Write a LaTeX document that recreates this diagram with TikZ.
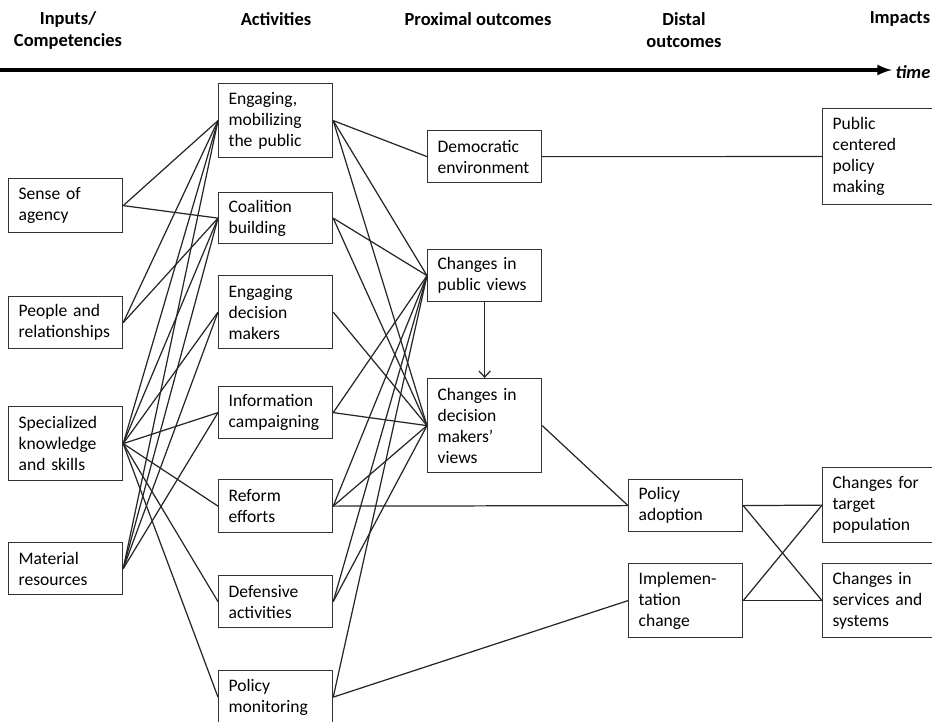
\documentclass[tikz,border=0pt]{standalone}
\usepackage{fontspec}
\setmainfont{Carlito}
\usetikzlibrary{arrows,arrows.meta}
\usetikzlibrary{positioning}

\begin{document}
\begin{tikzpicture}[x=0.02cm,y=-0.02cm]
	
	\tikzstyle{box} = [draw=black!80,line width=0.7pt,anchor=north west,align=left,inner xsep=0.2cm,text width=1.88cm,font=\fontsize{10}{12}\selectfont]
	\tikzstyle{wbox} = [box,minimum width=2.28cm]
	\tikzstyle{ibox} = [box,minimum width=2.2cm,text width=1.8cm]
	\tikzstyle{head} = [font=\fontsize{10.5}{12.5}\selectfont\bfseries,align=center]
	\tikzstyle{link} = [draw=black!85,line width=0.7pt]
	
	\useasboundingbox (0,0) rectangle (932,721);
	
	% column headings and time axis
	\node[head] (hin) at (68,30) {Inputs/\\Competencies};
	\node[head] (hact) at (276,19) {Activities};
	\node[head] (hprox) at (478,19) {Proximal outcomes};
	\node[head] (hdist) at (684,30) {Distal\\outcomes};
	\node[head] (himp) at (900,19) {Impacts};
	\coordinate (tstart) at (0,70);
	\node[font=\fontsize{10.5}{12.5}\selectfont\bfseries\itshape,inner xsep=2pt] (time) at (913,72) {time};
	\draw[line width=1.8pt,->,>=latex] (tstart) -- (time.west |- tstart);
	
	% inputs
	\node[wbox,minimum height=1.08cm] (agency) at (8,178) {Sense of\\agency};
	\node[wbox,minimum height=1.04cm] (people) at (8,296) {People and\\relationships};
	\node[wbox,minimum height=1.48cm] (skills) at (8,406) {Specialized\\knowledge\\and skills};
	\node[wbox,minimum height=1.04cm] (material) at (8,542) {Material\\resources};
	
	% activities
	\node[wbox,minimum height=1.48cm] (mobil) at (218,83) {Engaging,\\mobilizing\\the public};
	\node[wbox,minimum height=1.02cm] (coal) at (218,192) {Coalition\\building};
	\node[wbox,minimum height=1.46cm] (engdm) at (218,275) {Engaging\\decision\\makers};
	\node[wbox,minimum height=1.04cm] (info) at (218,386) {Information\\campaigning};
	\node[wbox,minimum height=1.06cm] (reform) at (218,479) {Reform\\efforts};
	\node[wbox,minimum height=1.04cm] (defens) at (218,575) {Defensive\\activities};
	\node[wbox,minimum height=1.06cm] (monit) at (218,670) {Policy\\monitoring};
	
	% proximal outcomes
	\node[wbox,minimum height=1.04cm] (democ) at (427,130) {Democratic\\environment};
	\node[wbox,minimum height=1.04cm] (pubv) at (427,249) {Changes in\\public views};
	\node[wbox,minimum height=1.88cm] (dmv) at (427,378) {Changes in\\decision\\makers'\\views};
	
	% distal outcomes
	\node[wbox,minimum height=1.04cm] (adopt) at (628,479) {Policy\\adoption};
	\node[wbox,minimum height=1.48cm] (implem) at (628,563) {Implemen-\\tation\\change};
	
	% impacts
	\node[ibox,minimum height=1.92cm] (pcpm) at (822,108) {Public\\centered\\policy\\making};
	\node[ibox,minimum height=1.50cm] (target) at (822,467) {Changes for\\target\\population};
	\node[ibox,minimum height=1.48cm] (servic) at (822,563) {Changes in\\services and\\systems};
	
	% inputs to activities
	\draw (agency.east) edge [link] (mobil.west);
	\draw (agency.east) edge [link] (coal.west);
	\draw (people.east) edge [link] (mobil.west);
	\draw (people.east) edge [link] (coal.west);
	\draw (skills.east) edge [link] (mobil.west);
	\draw (skills.east) edge [link] (coal.west);
	\draw (skills.east) edge [link] (engdm.west);
	\draw (skills.east) edge [link] (info.west);
	\draw (skills.east) edge [link] (reform.west);
	\draw (skills.east) edge [link] (defens.west);
	\draw (skills.east) edge [link] (monit.west);
	\draw (material.east) edge [link] (mobil.west);
	\draw (material.east) edge [link] (coal.west);
	\draw (material.east) edge [link] (engdm.west);
	\draw (material.east) edge [link] (info.west);
	
	% activities to proximal outcomes
	\draw (mobil.east) edge [link] (democ.west);
	\draw (mobil.east) edge [link] (pubv.west);
	\draw (mobil.east) edge [link] (dmv.west);
	\draw (coal.east) edge [link] (pubv.west);
	\draw (coal.east) edge [link] (dmv.west);
	\draw (engdm.east) edge [link] (dmv.west);
	\draw (info.east) edge [link] (pubv.west);
	\draw (info.east) edge [link] (dmv.west);
	\draw (reform.east) edge [link] (pubv.west);
	\draw (reform.east) edge [link] (dmv.west);
	\draw (defens.east) edge [link] (pubv.west);
	\draw (defens.east) edge [link] (dmv.west);
	\draw (monit.east) edge [link] (pubv.west);
	\draw (pubv.south) edge [link,-{Straight Barb[length=3.5pt,width=6.5pt]}] (dmv.north);
	
	% to distal outcomes and impacts
	\draw (reform.east) edge [link] (adopt.west);
	\draw (monit.east) edge [link] (implem.west);
	\draw (dmv.east) edge [link] (adopt.west);
	\draw (democ.east) edge [link] (pcpm.west);
	\draw (adopt.east) edge [link] (target.west);
	\draw (adopt.east) edge [link] (servic.west);
	\draw (implem.east) edge [link] (target.west);
	\draw (implem.east) edge [link] (servic.west);

\end{tikzpicture}
\end{document}
